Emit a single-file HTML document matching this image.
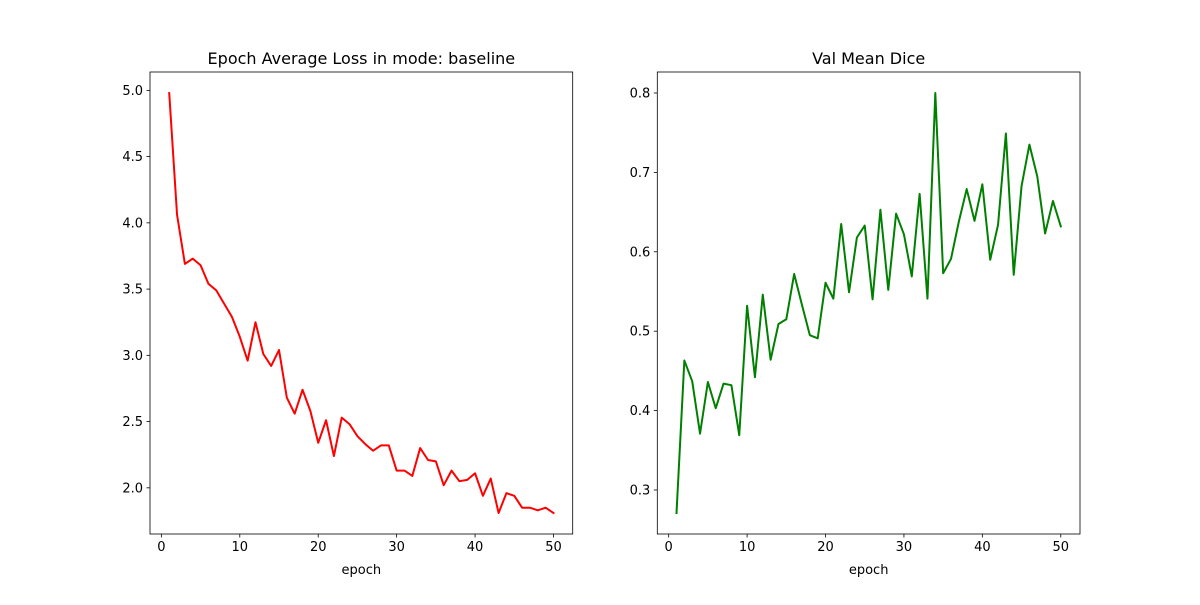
<!DOCTYPE html>
<html><head><meta charset="utf-8"><style>
body{margin:0;background:#fff;}
svg text{font-family:"DejaVu Sans","Liberation Sans",sans-serif;fill:#000;}
</style></head><body>
<svg id="chart" width="1200" height="600" xmlns="http://www.w3.org/2000/svg">
<rect width="1200" height="600" fill="#fff"/>
</svg>
<script>
const lossValues=[4.98,4.06,3.69,3.73,3.68,3.54,3.49,3.39,3.29,3.14,2.96,3.25,3.01,2.92,3.04,2.68,2.56,2.74,2.58,2.34,2.51,2.24,2.53,2.48,2.39,2.33,2.28,2.32,2.32,2.13,2.13,2.09,2.30,2.21,2.20,2.02,2.13,2.05,2.06,2.11,1.94,2.07,1.81,1.96,1.94,1.85,1.85,1.83,1.85,1.81];
const diceValues=[0.271,0.463,0.437,0.371,0.436,0.403,0.434,0.432,0.369,0.532,0.442,0.546,0.464,0.509,0.515,0.572,0.533,0.495,0.491,0.561,0.541,0.635,0.549,0.618,0.633,0.540,0.653,0.552,0.648,0.622,0.569,0.673,0.541,0.800,0.573,0.591,0.638,0.679,0.639,0.685,0.590,0.634,0.749,0.571,0.683,0.735,0.695,0.623,0.664,0.632];
const xTicks=[0,10,20,30,40,50];
const lossTicks=[2.0,2.5,3.0,3.5,4.0,4.5,5.0];
const diceTicks=[0.3,0.4,0.5,0.6,0.7,0.8];
const NS="http://www.w3.org/2000/svg";
const svg=document.getElementById('chart');
function el(tag,attrs,parent){const e=document.createElementNS(NS,tag);for(const k in attrs)e.setAttribute(k,attrs[k]);(parent||svg).appendChild(e);return e;}
function drawPanel(name,left,values,yTicks,decimals,color,title){
  const right=left+422.7,top=72,bottom=534;
  const n=values.length;
  const xMin=1-0.05*(n-1),xMax=n+0.05*(n-1);
  const vmin=Math.min(...values),vmax=Math.max(...values),pad=0.05*(vmax-vmin);
  const yMin=vmin-pad,yMax=vmax+pad;
  const xs=v=>left+(v-xMin)/(xMax-xMin)*(right-left);
  const ys=v=>bottom-(v-yMin)/(yMax-yMin)*(bottom-top);
  const g=el('g',{});
  
  
  xTicks.forEach(t=>{const x=xs(t);
    const l=el('line',{x1:x,x2:x,y1:bottom,y2:bottom+3.5,stroke:'#000','stroke-width':0.8},g);
    
    const tx=el('text',{x:x,y:bottom+17,'font-size':13,'text-anchor':'middle'},g);tx.textContent=t;
    });
  yTicks.forEach(t=>{const y=ys(t);
    const l=el('line',{x1:left-3.5,x2:left,y1:y,y2:y,stroke:'#000','stroke-width':0.8},g);
    
    const tx=el('text',{x:left-7,y:y+4.5,'font-size':13,'text-anchor':'end'},g);tx.textContent=t.toFixed(decimals);
    });
  const pts=values.map((v,i)=>xs(i+1).toFixed(2)+','+ys(v).toFixed(2)).join(' ');
  const pl=el('polyline',{points:pts,fill:'none',stroke:color,'stroke-width':2,'stroke-linejoin':'round','stroke-linecap':'square'},g);
  
  const r=el('rect',{x:left,y:top,width:right-left,height:bottom-top,fill:'none',stroke:'#000','stroke-width':0.8},g);
  
  const tt=el('text',{x:(left+right)/2,y:top-8,'font-size':16,'text-anchor':'middle'},g);tt.textContent=title;
  
  const xl=el('text',{x:(left+right)/2,y:bottom+40,'font-size':13,'text-anchor':'middle'},g);xl.textContent='epoch';
  
}
drawPanel('loss',150,lossValues,lossTicks,1,'#ff0000','Epoch Average Loss in mode: baseline');
drawPanel('dice',657.3,diceValues,diceTicks,1,'#008000','Val Mean Dice');
</script>
</body></html>
